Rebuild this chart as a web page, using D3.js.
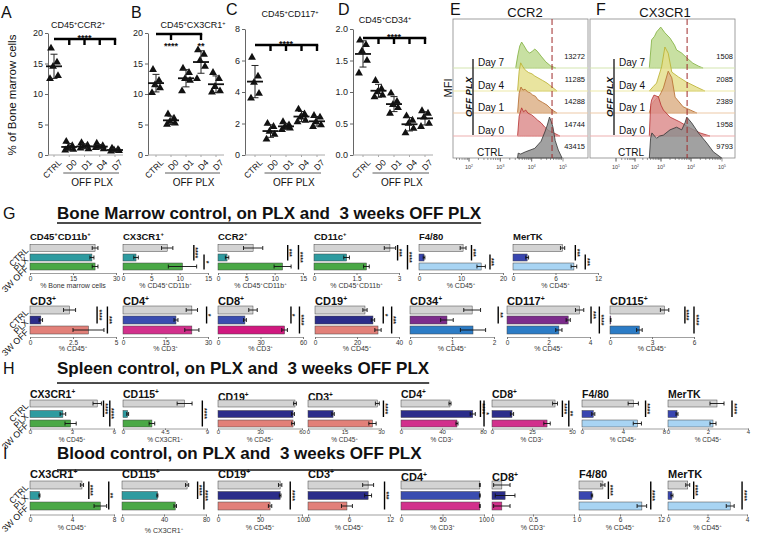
<!DOCTYPE html>
<html><head><meta charset="utf-8">
<script src="https://cdn.jsdelivr.net/npm/d3@7"></script>
<style>
body{margin:0;background:#fff}
svg{display:block}
text{font-family:"Liberation Sans",Arial,Helvetica,sans-serif;fill:#111}
</style>
</head><body>
<svg id="c" width="757" height="540"></svg>
<script>
// ================= DATA =================
// Top row scatter (A-D): categories and per-mouse values
const dotCats = ["CTRL","D0","D1","D4","D7"];
const dotTitles = ["CD45^+CCR2^+","CD45^+CX3CR1^+","CD45^+CD117^+","CD45^+CD34^+"];
const dotMax = [20,20,8,2];
const dotTicks = [[0,5,10,15,20],[0,5,10,15,20],[0,2,4,6,8],[0,0.5,1,1.5,2]];
const ccr2Pts   = [[17.5,15.2,14.5,13.0,12.5],[2.2,1.5,1.2,0.9,0.8],[2.0,1.6,1.4,1.0,1.1],[1.9,1.5,1.3,1.0,1.2],[1.1,0.9,0.8,0.7,0.6]];
const cx3cr1Pts = [[14.0,12.2,11.5,11.0,10.2],[6.7,6.0,5.5,5.2,5.0],[14.2,13.5,12.5,12.2,10.5],[17.2,16.5,15.5,14.5,12.5],[13.5,12.5,11.2,10.5,10.3]];
const cd117Pts  = [[6.2,5.0,4.6,3.9,3.6],[2.0,1.8,1.5,1.3,1.0],[2.1,1.9,1.8,1.7,1.6],[2.9,2.6,2.4,2.2,2.1],[2.5,2.4,2.1,1.9,1.8]];
const cd34Pts   = [[1.82,1.75,1.65,1.5,1.3],[1.18,1.05,1.0,0.95,0.92],[0.98,0.85,0.8,0.75,0.66],[0.62,0.55,0.5,0.42,0.35],[0.7,0.66,0.6,0.5,0.45]];
const dotSig = [
  {span:["CTRL","D7"], drops:["D0","D1","D4","D7"], stars:[["mid","****"]], below:false},
  {span:["CTRL","D4"], drops:["D0","D4"], stars:[["D0","****"],["D4","**"]], below:true},
  {span:["CTRL","D7"], drops:["D0","D1","D4","D7"], stars:[["mid","****"]], below:false},
  {span:["CTRL","D7"], drops:["D0","D1","D4","D7"], stars:[["mid","****"]], below:false}
];

// Histograms (E, F): [log10 intensity, % of mode]
const histLanes = ["Day 7","Day 4","Day 1","Day 0","CTRL"];
const ccr2MFI = [13272,11285,14288,14744,43415];
const cx3cr1MFI = [1508,2085,2389,1958,9793];
const ccr2Hist = [
  [[3.49,0],[3.56,30],[3.62,50],[3.68,59],[3.76,50],[3.86,38],[3.94,34],[4.02,38],[4.1,43],[4.18,38],[4.3,27],[4.45,14],[4.6,5],[4.77,0]],
  [[3.55,0],[3.6,45],[3.65,64],[3.72,55],[3.79,48],[3.9,42],[4.01,39],[4.1,34],[4.2,30],[4.35,24],[4.49,18],[4.65,9],[4.81,0]],
  [[3.55,0],[3.6,45],[3.66,59],[3.72,52],[3.79,54],[3.87,48],[3.95,46],[4.03,41],[4.12,38],[4.2,30],[4.35,24],[4.49,18],[4.65,7],[4.81,0]],
  [[3.55,0],[3.6,45],[3.68,64],[3.74,55],[3.81,59],[3.88,52],[4.0,48],[4.1,42],[4.19,36],[4.3,30],[4.42,20],[4.55,12],[4.65,9],[4.9,0]],
  [[3.55,0],[3.57,11],[3.65,9],[3.8,14],[3.95,18],[4.1,22],[4.2,30],[4.3,38],[4.42,59],[4.5,75],[4.57,93],[4.63,82],[4.68,70],[4.75,40],[4.85,18],[4.97,0]]
];
const cx3cr1Hist = [
  [[2.55,0],[2.64,64],[2.75,72],[2.83,82],[2.99,93],[3.13,80],[3.3,68],[3.45,52],[3.52,41],[3.69,34],[3.86,23],[4.06,11],[4.25,4],[4.39,0]],
  [[2.55,0],[2.7,10],[2.83,18],[3.02,55],[3.13,100],[3.24,86],[3.36,43],[3.58,32],[3.86,20],[4.18,9],[4.45,0]],
  [[2.55,0],[2.65,20],[2.77,30],[2.95,40],[3.08,57],[3.24,95],[3.36,80],[3.47,36],[3.74,14],[3.97,7],[4.19,0]],
  [[2.55,0],[2.6,70],[2.64,82],[2.73,93],[2.9,89],[3.0,70],[3.08,59],[3.3,43],[3.63,32],[3.97,18],[4.29,7],[4.61,0]],
  [[2.55,0],[2.6,45],[2.65,57],[2.75,50],[2.83,45],[2.95,50],[3.08,52],[3.3,64],[3.52,70],[3.69,64],[3.8,80],[3.86,93],[4.02,80],[4.24,57],[4.51,34],[4.72,14],[4.99,0]]
];
const histCut = [4.65, 3.87];
const histTitles = ["CCR2","CX3CR1"];

// Bar panels (G, H, I): rows CTRL, PLX, 3W OFF
const rowLabels = ["CTRL","PLX","3W OFF"];
const sectionTitles = ["Bone Marrow control, on PLX and  3 weeks OFF PLX","Spleen control, on PLX and  3 weeks OFF PLX","Blood control, on PLX and  3 weeks OFF PLX"];
const sectionLetters = ["G","H","I"];

const g1Titles = ["CD45^+CD11b^+","CX3CR1^+","CCR2^+","CD11c^+","F4/80","MerTK"];
const g1Max = [30,15,15,3,20,12];
const g1Ticks = [[0,15,30],[0,5,10,15],[0,5,10,15],[0,1.5,3],[0,10,20],[0,6,12]];
const g1Units = ["% Bone marrow cells","% CD45^+CD11b^+","% CD45^+CD11b^+","% CD45^+CD11b^+","% CD45^+","% CD45^+"];
const g1Values = [[22.7,21.6,22.7],[7.8,2.3,10.5],[6.2,1.6,11.4],[2.68,1.15,1.85],[10.5,1.2,14.8],[7.0,2.0,8.6]];
const g1Errors = [[1.0,0.7,1.0],[1.0,0.4,2.5],[1.7,0.3,1.5],[0.2,0.1,0.1],[0.7,0.2,1.0],[0.3,0.2,0.4]];
const g1Sig = [[],[[0,1,"****",12.5],[1,2,"*",14.3]],[[0,1,"***",12.3],[0,2,"****",14.2]],[[0,1,"***",2.95],[0,2,"****",3.3]],[[0,1,"***",12.5],[1,2,"***",16.9]],[[0,1,"***",8.8],[1,2,"***",10.2]]];

const g2Titles = ["CD3^+","CD4^+","CD8^+","CD19^+","CD34^+","CD117^+","CD115^+"];
const g2Max = [5,30,60,40,2,4,6];
const g2Ticks = [[0,2.5,5],[0,15,30],[0,30,60],[0,20,40],[0,1,2],[0,2,4],[0,3,6]];
const g2Units = ["% CD45^+","% CD3^+","% CD3^+","% CD45^+","% CD45^+","% CD45^+","% CD45^+"];
const g2Values = [[2.3,0.63,3.4],[24.3,18.7,24.3],[24.7,19,47],[23.8,27.6,30],[1.48,0.88,1.5],[3.5,2.95,2.5],[3.9,0.05,2.1]];
const g2Errors = [[0.35,0.1,0.9],[2,0.7,2.5],[3,1,2],[1,0.8,1.5],[0.2,0.15,0.3],[0.2,0.1,0.15],[0.3,0.02,0.2]];
const g2Sig = [[[0,1,"****",3.9],[0,2,"***",4.5]],[[0,1,"*",29.5]],[[0,1,"*",51.5],[0,2,"****",57.5]],[[0,1,"*",32.5],[0,2,"***",36.5]],[[0,1,"**",2.1]],[[0,1,"***",4.05],[0,2,"****",4.45]],[[0,1,"****",5.35],[0,2,"****",6.0]]];

const hTitles = ["CX3CR1^+","CD115^+","CD19^+","CD3^+","CD4^+","CD8^+","F4/80","MerTK"];
const hMax = [6,9,60,30,80,50,8,4];
const hTicks = [[0,3,6],[0,4.5,9],[0,30,60],[0,15,30],[0,40,80],[0,25,50],[0,4,8],[0,2,4]];
const hUnits = ["% CD45^+","% CX3CR1^+","% CD45^+","% CD45^+","% CD3^+","% CD3^+","% CD45^+","% CD45^+"];
const hValues = [[4.8,2.35,2.9],[6.6,0.5,3.1],[55,53.6,53.6],[28.5,10.3,26.5],[47.8,70,54.6],[39.4,12.5,34.4],[5.0,1.1,5.4],[2.45,0.45,2.25]];
const hErrors = [[0.3,0.2,0.4],[0.8,0.1,0.3],[1,1,1],[0.8,0.5,1.5],[1,2.5,1],[1.5,1,2],[0.5,0.15,0.4],[0.35,0.05,0.15]];
const hSig = [[[0,1,"****",5.25],[0,2,"****",5.7]],[[0,2,"****",8.5]],[],[[0,1,"****",31]],[[0,1,"****",77.5],[0,2,"*",81]],[[0,1,"****",44],[0,2,"**",48]],[[0,1,"****",6.2]],[[0,1,"****",3.2]]];

const iTitles = ["CX3CR1^+","CD115^+","CD19^+","CD3^+","CD4^+","CD8^+","F4/80","MerTK"];
const iMax = [8,80,100,12,100,1,12,4];
const iTicks = [[0,4,8],[0,40,80],[0,50,100],[0,6,12],[0,50,100],[0,0.5,1],[0,6,12],[0,2,4]];
const iUnits = ["% CD45^+","% CX3CR1^+","% CD45^+","% CD45^+","% CD3^+","% CD3^+","% CD45^+","% CD45^+"];
const iValues = [[4.95,0.9,6.7],[62,33.7,50.7],[74,74,62],[8.8,8.8,5.7],[95,95,95],[0.12,0.16,0.12],[3.5,1.9,9.2],[1.0,0.2,3.15]];
const iErrors = [[0.15,0.05,0.6],[1.5,0.5,1.2],[2,1,2],[0.8,0.5,0.8],[0.5,0.5,0.5],[0.1,0.12,0.1],[0.3,0.1,0.7],[0.1,0.05,0.2]];
const iSig = [[[0,1,"****",5.6],[0,2,"**",7.5]],[[0,1,"****",72],[0,2,"****",78]],[[0,2,"****",86]],[[0,2,"***",11.2]],[],[],[[0,1,"****",4.3],[0,2,"****",10.5]],[[0,1,"****",1.3],[0,2,"****",3.75]]];

// ================= STYLE / LAYOUT =================
const pal = {gray:"#d3d3d3", teal:"#2e9ba0", green:"#4aa846", navy:"#2b2d8a", royal:"#3a4db0", salmon:"#e28079",
  magenta:"#d2308c", pink:"#d0187f", purple:"#7c2c8c", blue:"#2c7cc6", mblue:"#3946b0", lblue:"#a8d4f3"};
const TGG = ["gray","teal","green"], MBL = ["gray","mblue","lblue"], NSA = ["gray","navy","salmon"], PBL = ["gray","purple","blue"];
const g1Col = [TGG,TGG,TGG,TGG,MBL,MBL];
const g2Col = [NSA,["gray","royal","magenta"],["gray","royal","pink"],NSA,PBL,PBL,PBL];
const hCol = [TGG,TGG,NSA,NSA,["gray","navy","magenta"],["gray","navy","magenta"],MBL,MBL];
const iCol = [TGG,TGG,NSA,NSA,["gray","royal","magenta"],["gray","navy","magenta"],MBL,MBL];

const rows = [
  {L:{title:240,c:[248,257.5,266.5],h:7,axis:273,label:287.5,ts:9.5,tp:1,tk:2,tf:6.5,uf:7}, X:[[30,116],[123,208],[218,303],[314,399],[419,503],[513,598]], shift:[0,0,0,0,0,0],
   T:g1Titles,M:g1Max,K:g1Ticks,U:g1Units,V:g1Values,E:g1Errors,S:g1Sig,C:g1Col},
  {L:{title:305,c:[310,320,330],h:8,axis:337,label:351,ts:11,tp:1,tk:2,tf:6.5,uf:7}, X:[[30,116],[123,208],[218,303],[315,399],[410,494],[507,590],[610,694]], shift:[0,0,0,0,0,0,0],
   T:g2Titles,M:g2Max,K:g2Ticks,U:g2Units,V:g2Values,E:g2Errors,S:g2Sig,C:g2Col},
  {L:{title:398,c:[403.5,414,423.5],h:7,axis:428.5,label:442,ts:10.5,tp:0,tk:1.5,tf:6,uf:6.5}, X:[[30,114],[123,207],[218,302],[308,381],[401,483],[492,572],[582,664],[668,748]], shift:[0,0,3,3,0,0,0,0],
   T:hTitles,M:hMax,K:hTicks,U:hUnits,V:hValues,E:hErrors,S:hSig,C:hCol},
  {L:{title:478,c:[485,495.5,506],h:8,axis:514.5,label:530,ts:11,tp:1,tk:2,tf:6.5,uf:7}, X:[[30,114],[122,206],[218,302],[308,390],[401,484],[492,574],[579,661],[668,747]], shift:[0,0,0,0,3,3,0,0],
   T:iTitles,M:iMax,K:iTicks,U:iUnits,V:iValues,E:iErrors,S:iSig,C:iCol}
];

const svg = d3.select("#c");

function rich(t, str, fs){
  const toks = str.split(/(\^.)/).filter(s => s.length);
  let raised = false;
  toks.forEach(tok => {
    if (tok[0] === "^") {
      t.append("tspan").attr("dy", raised ? 0 : -fs*0.38).attr("font-size", fs*0.62).text(tok.slice(1));
      raised = true;
    } else {
      const s = t.append("tspan").text(tok);
      if (raised) { s.attr("dy", fs*0.38); raised = false; }
    }
  });
  return t;
}

// ================= TOP ROW: A-D =================
const dotPts = [ccr2Pts, cx3cr1Pts, cd117Pts, cd34Pts];
const dotLayout = [
  {axisX:48, y0:155, y1:33, r0:54, r1:115, letter:"A", lx:1, ly:18, tx:78, ty:28, sigY:39},
  {axisX:148, y0:155, y1:33, r0:156, r1:216, letter:"B", lx:131, ly:18, tx:193, ty:28, sigY:34},
  {axisX:245, y0:155, y1:29, r0:255, r1:317, letter:"C", lx:226, ly:15, tx:290, ty:17, sigY:45},
  {axisX:353, y0:155, y1:29, r0:363, r1:425, letter:"D", lx:338, ly:15, tx:385, ty:23, sigY:38}
];
const jit = [-3, 3, -1, 4, -4];
const tri = d3.symbol().type(d3.symbolTriangle).size(27);

dotLayout.forEach((L, i) => {
  const g = svg.append("g");
  const y = d3.scaleLinear().domain([0, dotMax[i]]).range([L.y0, L.y1]);
  const x = d3.scalePoint().domain(dotCats).range([L.r0, L.r1]);
  g.append("text").attr("x", L.lx).attr("y", L.ly).attr("font-size", 16).text(L.letter);
  rich(g.append("text").attr("x", L.tx).attr("y", L.ty).attr("text-anchor","middle").attr("font-size", 9), dotTitles[i], 9);
  const fmt = i === 3 ? d3.format(".1f") : d3.format("d");
  const ax = g.append("g").attr("transform", `translate(${L.axisX},0)`)
    .call(d3.axisLeft(y).tickValues(dotTicks[i]).tickSize(3).tickSizeOuter(0).tickPadding(2).tickFormat(fmt));
  ax.selectAll("text").attr("font-size", 9).style("fill","#222");
  ax.select(".domain").attr("stroke", "#666");
  ax.selectAll(".tick line").attr("stroke", "#666");
  g.append("line").attr("x1", L.axisX).attr("x2", L.r1 + 8).attr("y1", L.y0).attr("y2", L.y0).attr("stroke", "#aaa");
  dotCats.forEach(c => {
    g.append("line").attr("x1", x(c)).attr("x2", x(c)).attr("y1", L.y0).attr("y2", L.y0 + 2).attr("stroke", "#aaa");
    g.append("text").attr("transform", `translate(${x(c)+4},${L.y0+4}) rotate(-45)`).attr("text-anchor","end")
      .attr("dy","0.7em").attr("font-size", 8.5).text(c);
  });
  g.append("line").attr("x1", x("D0") - 6).attr("x2", x("D7") + 4).attr("y1", 173).attr("y2", 173).attr("stroke", "#333").attr("stroke-width", 0.8);
  g.append("text").attr("x", (x("D0") + x("D7")) / 2).attr("y", 186).attr("text-anchor","middle").attr("font-size", 10).text("OFF PLX");
  dotPts[i].forEach((arr, ci) => {
    const cx = x(dotCats[ci]);
    const m = d3.mean(arr), sd = d3.deviation(arr);
    arr.forEach((v, k) => {
      g.append("path").attr("d", tri).attr("transform", `translate(${cx + jit[k]},${y(v)})`).attr("fill", "#111");
    });
    g.append("line").attr("x1", cx).attr("x2", cx).attr("y1", y(m - sd)).attr("y2", y(m + sd)).attr("stroke", "#222").attr("stroke-width", 1);
    [m - sd, m + sd].forEach(v => g.append("line").attr("x1", cx - 3.5).attr("x2", cx + 3.5).attr("y1", y(v)).attr("y2", y(v)).attr("stroke", "#222").attr("stroke-width", 1));
    g.append("line").attr("x1", cx - 8).attr("x2", cx + 8).attr("y1", y(m)).attr("y2", y(m)).attr("stroke", "#111").attr("stroke-width", 1.8);
  });
  const S = dotSig[i];
  g.append("line").attr("x1", x(S.span[0])).attr("x2", x(S.span[1]) + 1.2).attr("y1", L.sigY).attr("y2", L.sigY).attr("stroke", "#000").attr("stroke-width", 2.6);
  S.drops.forEach(c => g.append("line").attr("x1", x(c)).attr("x2", x(c)).attr("y1", L.sigY).attr("y2", L.sigY + 6).attr("stroke", "#000").attr("stroke-width", 2.4));
  S.stars.forEach(([at, lab]) => {
    const sx = at === "mid" ? (x(S.span[0]) + x(S.span[1])) / 2 : x(at);
    g.append("text").attr("x", sx).attr("y", S.below ? L.sigY + 15 : L.sigY + 1.5).attr("text-anchor","middle")
      .attr("font-size", 9).attr("font-weight","bold").text(lab);
  });
});
svg.append("text").attr("transform","translate(16,95) rotate(-90)").attr("text-anchor","middle").attr("font-size",11.5).text("% of Bone marrow cells");

// ================= E, F histograms =================
const histData = [ccr2Hist, cx3cr1Hist];
const histMFI = [ccr2MFI, cx3cr1MFI];
const laneBase = [68, 91, 113, 136, 158];
const laneStyle = [
  {fill:"#bcd98e", stroke:"#7fae3c", line:"#d3e6b0"},
  {fill:"#e4de8a", stroke:"#b9ae2c", line:"#eee9a8"},
  {fill:"#dcae84", stroke:"#b46a2a", line:"#eecaa8"},
  {fill:"#dc8a8a", stroke:"#b52e2e", line:"#eeb0b0"},
  {fill:"#8c8c8c", stroke:"#333333", line:"#999"}
];
const histLayout = [
  {x0:453, x1:588, tx:525, letter:"E", lx:450, sc:d3.scaleLinear().domain([2,5]).range([469,563]), dmin:1, ticks:[2,3,4,5], barX:473, offX:472, labelX:478, numX:585},
  {x0:590, x1:735, tx:665, letter:"F", lx:596, sc:d3.scaleLinear().domain([1,2,3,4,5]).range([616,635,661,691,722]), dmin:1, ticks:[1,2,3,4,5], barX:614, offX:613, labelX:619, numX:733}
];
const hTop = 19, hBot = 158;
histLayout.forEach((P, j) => {
  const g = svg.append("g");
  const sc = P.sc;
  const hy = d3.scaleLinear().domain([0, 100]).range([0, 44]);
  g.append("text").attr("x", P.lx).attr("y", 15).attr("font-size", 16).text(P.letter);
  g.append("text").attr("x", P.tx).attr("y", 17).attr("text-anchor","middle").attr("font-size", 13).text(histTitles[j]);
  g.append("rect").attr("x", P.x0).attr("y", hTop).attr("width", P.x1 - P.x0).attr("height", hBot - hTop).attr("fill", "#fff").attr("stroke", "#888").attr("stroke-width", 0.8);
  histData[j].forEach((lane, li) => {
    const base = laneBase[li];
    const area = d3.area().x(d => sc(d[0])).y0(base).y1(d => base - hy(d[1]));
    g.append("path").attr("d", area(lane)).attr("fill", laneStyle[li].fill).attr("fill-opacity", 0.82)
      .attr("stroke", laneStyle[li].stroke).attr("stroke-width", 0.8);
    if (li < 4) g.append("line").attr("x1", P.x0).attr("x2", P.x1).attr("y1", base).attr("y2", base).attr("stroke", laneStyle[li].line).attr("stroke-width", 1.2);
  });
  histLanes.forEach((lab, li) => {
    g.append("text").attr("x", li === 4 ? P.labelX - 1 : P.labelX).attr("y", laneBase[li] - 2.5).attr("font-size", 10).text(lab);
    g.append("text").attr("x", P.numX).attr("y", laneBase[li] - 9).attr("text-anchor","end").attr("font-size", 7.5).text(histMFI[j][li]);
  });
  g.append("line").attr("x1", sc(histCut[j])).attr("x2", sc(histCut[j])).attr("y1", hTop).attr("y2", hBot)
    .attr("stroke", "#9e2a2a").attr("stroke-width", 1).attr("stroke-dasharray", "6,3");
  g.append("line").attr("x1", P.barX).attr("x2", P.barX).attr("y1", 59).attr("y2", 135).attr("stroke", "#333").attr("stroke-width", 1.5);
  g.append("text").attr("transform", `translate(${P.offX},97) rotate(-90)`).attr("text-anchor","middle")
    .attr("font-size", 9.5).attr("font-weight","bold").attr("font-style","italic").text("OFF PLX");
  for (let d = P.dmin; d <= 4; d++) {
    for (let k = 1; k <= 9; k++) {
      const v = d + Math.log10(k);
      const px = sc(v);
      if (px < P.x0 || px > P.x1) continue;
      g.append("line").attr("x1", px).attr("x2", px).attr("y1", hBot).attr("y2", hBot + (k === 1 ? 3.5 : 2)).attr("stroke", "#555").attr("stroke-width", 0.6);
    }
  }
  P.ticks.forEach(t => {
    g.append("line").attr("x1", sc(t)).attr("x2", sc(t)).attr("y1", hBot).attr("y2", hBot + 3.5).attr("stroke", "#555").attr("stroke-width", 0.6);
    rich(g.append("text").attr("x", sc(t)).attr("y", 169).attr("text-anchor","middle").attr("font-size", 5.5).style("fill","#444"), "10^" + t, 5.5);
  });
});
svg.append("text").attr("transform","translate(451.5,88) rotate(-90)").attr("text-anchor","middle").attr("font-size",11).text("MFI");

// ================= G, H, I sections =================
const secLayout = [{y:219, ul:223}, {y:374, ul:383}, {y:459, ul:470}];
sectionTitles.forEach((s, k) => {
  const S = secLayout[k];
  svg.append("text").attr("x", 3).attr("y", S.y).attr("font-size", 16).text(sectionLetters[k]);
  const t = svg.append("text").attr("x", 57).attr("y", S.y).attr("font-size", 17).attr("font-weight","bold").style("white-space","pre").text(s);
  const w = t.node().getComputedTextLength();
  svg.append("line").attr("x1", 57).attr("x2", 57 + w).attr("y1", S.ul).attr("y2", S.ul).attr("stroke", "#111").attr("stroke-width", 1.3);
});

rows.forEach(R => {
  const L = R.L;
  rowLabels.forEach((lab, r) => {
    svg.append("text").attr("transform", `translate(29,${L.c[r] + 3}) rotate(-45)`).attr("text-anchor","end").attr("font-size", 8.8).text(lab);
  });
  R.T.forEach((title, p) => {
    const g = svg.append("g");
    const [x0, x1] = R.X[p];
    const x = d3.scaleLinear().domain([0, R.M[p]]).range([x0, x1]);
    rich(g.append("text").attr("x", x0).attr("y", L.title + R.shift[p]).attr("font-size", L.ts).attr("font-weight","bold"), title, L.ts);
    R.V[p].forEach((v, r) => {
      const cy = L.c[r], e = R.E[p][r];
      g.append("rect").attr("x", x0).attr("y", cy - L.h / 2).attr("width", Math.max(0.8, x(v) - x0)).attr("height", L.h)
        .attr("fill", pal[R.C[p][r]]).attr("stroke", "#444").attr("stroke-width", 0.5);
      const a = x(Math.max(0, v - e)), b = x(v + e);
      g.append("line").attr("x1", a).attr("x2", b).attr("y1", cy).attr("y2", cy).attr("stroke", "#111").attr("stroke-width", 0.9);
      [a, b].forEach(xx => g.append("line").attr("x1", xx).attr("x2", xx).attr("y1", cy - 2).attr("y2", cy + 2).attr("stroke", "#111").attr("stroke-width", 0.9));
    });
    const ax = g.append("g").attr("transform", `translate(0,${L.axis})`)
      .call(d3.axisBottom(x).tickValues(R.K[p]).tickSize(L.tk).tickSizeOuter(0).tickPadding(L.tp).tickFormat(d3.format("~g")));
    ax.selectAll("text").attr("font-size", L.tf).style("fill", "#333");
    ax.select(".domain").attr("stroke", "#777").attr("stroke-width", 0.7);
    ax.selectAll(".tick line").attr("stroke", "#777");
    const unitY = L.label + (R.U[p] === "% CX3CR1^+" && L.title > 470 ? 3 : 0);
    rich(g.append("text").attr("x", (x0 + x1) / 2).attr("y", unitY).attr("text-anchor","middle").attr("font-size", L.uf).style("fill","#333"), R.U[p], L.uf);
    R.S[p].forEach(([ra, rb, lab, at]) => {
      const sx = x(at);
      const ya = L.c[ra] - L.h / 2 + 0.5, yb = L.c[rb] + L.h / 2 - 0.5;
      g.append("line").attr("x1", sx).attr("x2", sx).attr("y1", ya).attr("y2", yb).attr("stroke", "#000").attr("stroke-width", 1.4);
      g.append("text").attr("transform", `translate(${sx - 0.5},${(ya + yb) / 2}) rotate(90)`).attr("text-anchor","middle")
        .attr("font-size", 7).attr("font-weight","bold").text(lab);
    });
  });
});
</script>
</body></html>
